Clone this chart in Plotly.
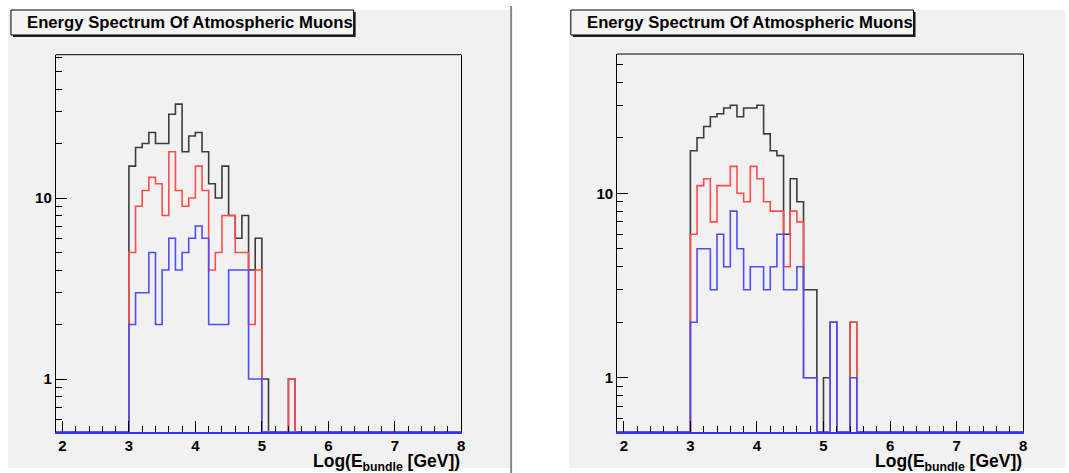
import plotly.graph_objects as go
import math

W, H = 1069, 473

# ---------------- data ----------------
X_MIN, X_MAX = 1.9, 8.0
BIN_WIDTH = 0.1
FIRST_BIN = 3.0                       # lower edge of first listed bin
TITLE = "Energy Spectrum Of Atmospheric Muons"
X_TICKS = [2, 3, 4, 5, 6, 7, 8]
Y_TICKS = [1, 10]
Y_TICK_TEXT = ["1", "10"]
Y_MINOR = [0.6, 0.7, 0.8, 0.9, 2, 3, 4, 5, 6, 7, 8, 9, 20, 30, 40, 50, 60]

# bins 3.0, 3.1, ..., 5.5 (all other bins empty)
left_black = [15, 19, 20, 23, 20, 20, 29, 33, 18, 22, 23, 18, 12, 10, 15, 8, 6, 8, 4, 6, 1, 0, 0, 0, 1, 0]
left_red   = [5, 9, 11, 13, 12, 8, 18, 11, 9, 10, 15, 11, 4, 5, 8, 8, 5, 5, 2, 4, 0, 0, 0, 0, 1, 0]
left_blue  = [2, 3, 3, 5, 2, 4, 6, 4, 5, 6, 7, 6, 2, 2, 2, 4, 4, 4, 1, 1, 0, 0, 0, 0, 0, 0]

right_black = [17, 20, 23, 26, 27, 29, 30, 26, 29, 29, 30, 21, 17, 16, 6, 12, 9, 3, 3, 0, 1, 2, 0, 0, 2, 0]
right_red   = [6, 11, 12, 7, 11, 11, 14, 10, 9, 14, 12, 9, 8, 8, 4, 8, 7, 1, 1, 0, 0, 2, 0, 0, 2, 0]
right_blue  = [2, 5, 5, 3, 6, 4, 8, 5, 3, 4, 4, 3, 4, 6, 3, 3, 4, 1, 1, 0, 0, 2, 0, 0, 1, 0]

LEFT_YRANGE = (0.512, 61.9)
RIGHT_YRANGE = (0.51, 56.9)

# ---------------- styles ----------------
BG = "#f1f1f1"
C_BLACK = "#3c3c3c"
C_RED = "#ff4d4d"
C_BLUE = "#4d4dff"
FONT = "Liberation Sans"

n_bins = int(round((X_MAX - X_MIN) / BIN_WIDTH))
offset = int(round((FIRST_BIN - X_MIN) / BIN_WIDTH))
edges = [round(X_MIN + i * BIN_WIDTH, 3) for i in range(n_bins + 1)]


def full(counts):
    arr = [0] * offset + list(counts)
    arr += [0] * (n_bins - len(arr))
    return arr


def step_trace(counts, color, ymin, xa, ya):
    vals = [max(v, ymin) for v in full(counts)]
    ys = vals + [vals[-1]]
    return go.Scatter(x=edges, y=ys, mode="lines",
                      line=dict(shape="hv", color=color, width=1.6),
                      xaxis=xa, yaxis=ya, showlegend=False, hoverinfo="skip")


fig = go.Figure()
for counts, col in [(left_black, C_BLACK), (left_red, C_RED), (left_blue, C_BLUE)]:
    fig.add_trace(step_trace(counts, col, LEFT_YRANGE[0], "x", "y"))
for counts, col in [(right_black, C_BLACK), (right_red, C_RED), (right_blue, C_BLUE)]:
    fig.add_trace(step_trace(counts, col, RIGHT_YRANGE[0], "x2", "y2"))


def px(x):
    return x / W


def py(y):
    return 1 - y / H


tickfont = dict(family=FONT, size=15, color="black", weight="bold")


def xaxis(domain, anchor):
    return dict(domain=domain, anchor=anchor, range=[X_MIN, X_MAX],
                showgrid=False, zeroline=False,
                showline=True, linecolor="#3333ff", linewidth=1.5,
                ticks="inside", ticklen=11, tickcolor="black", tickwidth=1,
                tickmode="array", tickvals=X_TICKS,
                ticktext=[str(t) for t in X_TICKS], tickfont=tickfont,
                minor=dict(ticks="inside", ticklen=6, tickcolor="black",
                           tickwidth=1, dtick=0.2, tick0=2, showgrid=False))


def yaxis(domain, anchor, yr):
    return dict(domain=domain, anchor=anchor, type="log",
                range=[math.log10(yr[0]), math.log10(yr[1])],
                showgrid=False, zeroline=False,
                showline=True, linecolor="black", linewidth=1, mirror=True,
                ticks="inside", ticklen=11, tickcolor="black", tickwidth=1,
                tickmode="array", tickvals=Y_TICKS, ticktext=Y_TICK_TEXT,
                tickfont=tickfont,
                minor=dict(ticks="inside", ticklen=6, tickcolor="black",
                           tickwidth=1, tickmode="array", tickvals=Y_MINOR,
                           showgrid=False))


panels = [
    dict(fx=(56, 463), fy=(54.7, 431.7), tb=(11, 355), pad=(8, 512)),
    dict(fx=(619.5, 1027), fy=(54, 431.7), tb=(573, 917), pad=(571, 1069)),
]

fig.update_layout(
    xaxis=xaxis([px(56), px(463)], "y"),
    yaxis=yaxis([py(431.7), py(54.7)], "x", LEFT_YRANGE),
    xaxis2=xaxis([px(619.5), px(1027)], "y2"),
    yaxis2=yaxis([py(431.7), py(54)], "x2", RIGHT_YRANGE),
)

shapes = []
annotations = []
for i, p in enumerate(panels):
    shapes.append(dict(type="rect", xref="paper", yref="paper", layer="below",
                       x0=px(p["pad"][0]), x1=px(p["pad"][1]),
                       y0=py(468), y1=py(10), fillcolor=BG, line=dict(width=0)))
    xr = "x domain" if i == 0 else "x2 domain"
    yr = "y domain" if i == 0 else "y2 domain"
    shapes.append(dict(type="line", xref=xr, yref=yr, x0=0, x1=1, y0=1, y1=1,
                       line=dict(color="black", width=1)))
    x0, x1 = p["tb"]
    shapes.append(dict(type="rect", xref="paper", yref="paper",
                       x0=px(x0 + 2), x1=px(x1 + 2), y0=py(37), y1=py(12),
                       fillcolor="#222222", line=dict(width=0)))
    shapes.append(dict(type="rect", xref="paper", yref="paper",
                       x0=px(x0), x1=px(x1), y0=py(35), y1=py(10),
                       fillcolor="#f4f4f4", line=dict(color="black", width=1)))
    annotations.append(dict(text=TITLE, xref="paper", yref="paper",
                            x=px((x0 + x1) / 2 + 8), y=py(22.5),
                            xanchor="center", yanchor="middle", showarrow=False,
                            font=dict(family=FONT, size=16.7, color="black",
                                      weight="bold")))
    annotations.append(dict(text="Log(E<sub>bundle</sub> [GeV])",
                            xref="paper", yref="paper",
                            x=px(p["fx"][1] + 1), y=py(462),
                            xanchor="right", yanchor="middle", showarrow=False,
                            font=dict(family=FONT, size=17.5, color="black",
                                      weight="bold")))

shapes.append(dict(type="line", xref="paper", yref="paper",
                   x0=px(513), x1=px(513), y0=py(473), y1=py(6),
                   line=dict(color="#888888", width=2)))

fig.update_layout(
    width=W, height=H, margin=dict(l=0, r=0, t=0, b=0),
    paper_bgcolor="white", plot_bgcolor=BG,
    shapes=shapes, annotations=annotations, showlegend=False,
)

fig.write_html("out.html")
